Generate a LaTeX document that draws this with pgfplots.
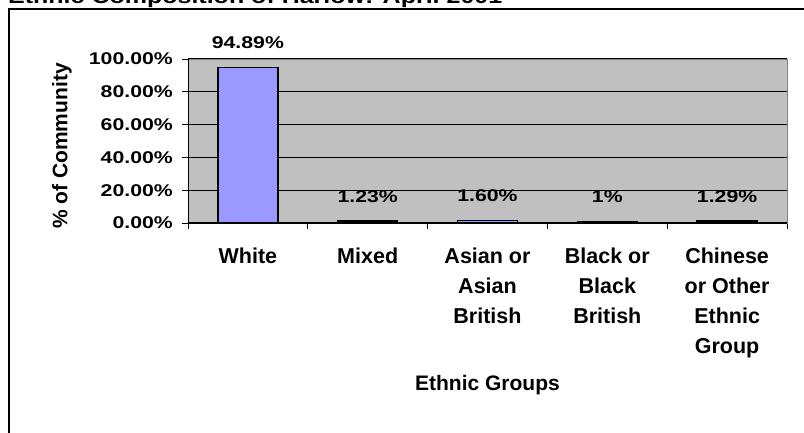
\documentclass[border=0pt]{standalone}
\usepackage{fontspec}
\setmainfont{Liberation Sans}
\newfontfamily\widefont{Liberation Sans Bold}[FakeStretch=1.25]
\usepackage{pgfplots}
\pgfplotsset{compat=1.18}
\definecolor{plotbg}{HTML}{C0C0C0}
\definecolor{barfill}{HTML}{9999FF}
\definecolor{frame}{HTML}{808080}

\begin{document}
\begin{tikzpicture}[x=1pt,y=1pt]
\useasboundingbox (0,0) rectangle (804,432);
% chart frame (runs off the right and bottom edges)
\draw[line width=2pt] (9,-20) rectangle (830,423);
\node[anchor=base west, inner sep=0pt, font=\widefont\fontsize{20}{24}\selectfont]
  at (8,428) {Ethnic Composition of Harlow: April 2001};

\begin{axis}[
    at={(188pt,209pt)}, anchor=south west,
    scale only axis, width=599pt, height=164pt,
    ybar, bar width=60pt,
    xmin=-0.5, xmax=4.5,
    ymin=0, ymax=100,
    clip=false,
    axis background/.style={fill=plotbg},
    axis line style={draw=frame, line width=1pt},
    tick align=outside, tick pos=left,
    major tick length=6pt, minor tick length=6pt,
    ytick={0,20,40,60,80,100},
    yticklabels={0.00\%,20.00\%,40.00\%,60.00\%,80.00\%,100.00\%},
    ytick style={black, line width=1pt},
    yticklabel style={font=\widefont\fontsize{17}{20}\selectfont,
        anchor=east, inner sep=0pt, xshift=-9pt},
    xtick={0,1,2,3,4},
    xticklabels={White,Mixed,{Asian or\\Asian\\British},{Black or\\Black\\British},
        {Chinese\\or Other\\Ethnic\\Group}},
    minor xtick={-0.5,0.5,1.5,2.5,3.5,4.5},
    major x tick style={draw=none},
    minor x tick style={black, line width=1pt},
    xticklabel style={font=\bfseries\fontsize{21.5}{30}\selectfont, align=center,
        anchor=north, inner sep=0pt, yshift=-19pt},
    ymajorgrids, xmajorgrids=false,
    major y grid style={black, line width=1.2pt},
    point meta=explicit symbolic,
    nodes near coords,
    nodes near coords style={anchor=base, inner sep=0pt, yshift=18.5pt,
        font=\widefont\fontsize{17}{20}\selectfont},
]
\addplot[fill=barfill, draw=black, line width=1.3pt] coordinates {
    (0,94.89) [94.89\%]
    (1,1.23)  [1.23\%]
    (2,1.60)  [1.60\%]
    (3,1)     [1\%]
    (4,1.29)  [1.29\%]
};
\draw[frame, line width=1pt] (rel axis cs:0,1) -- (rel axis cs:1,1) -- (rel axis cs:1,0);
\draw[black, line width=1pt] (rel axis cs:0,1) -- (rel axis cs:0,0) -- (rel axis cs:1,0);
\end{axis}

\node[rotate=90, font=\bfseries\fontsize{21}{25}\selectfont] at (62,286) {\% of Community};
\node[anchor=base, font=\bfseries\fontsize{21}{25}\selectfont] at (487.5,42) {Ethnic Groups};
\end{tikzpicture}
\end{document}
